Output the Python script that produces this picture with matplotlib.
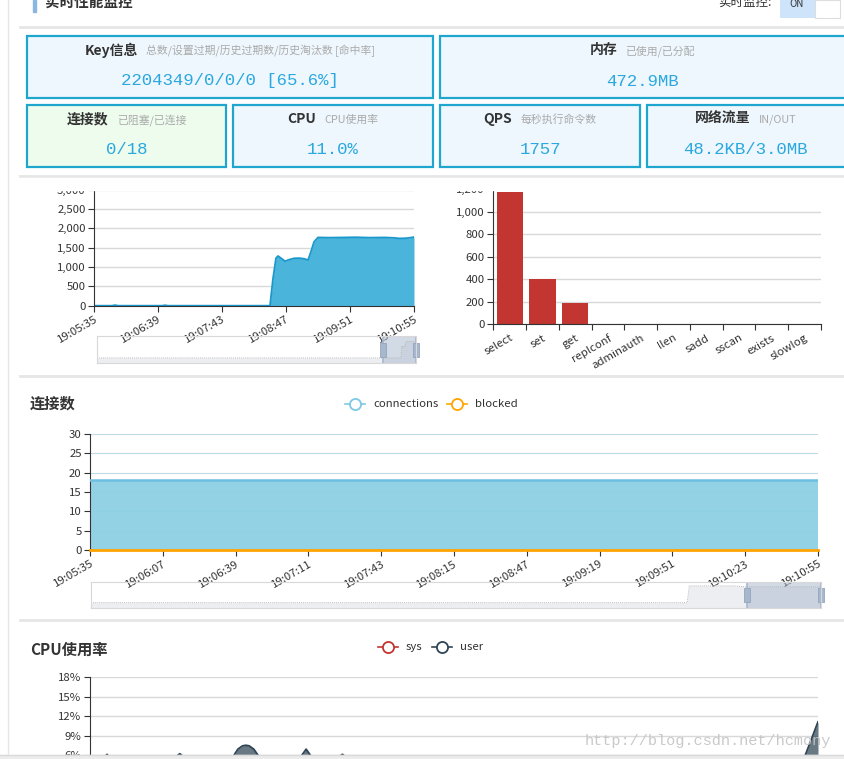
import matplotlib
matplotlib.use('Agg')
import matplotlib.pyplot as plt
from matplotlib.patches import Rectangle
from matplotlib.path import Path

plt.rcParams['font.family'] = ['Noto Sans CJK SC', 'DejaVu Sans']

# ---- data ----
# summary cards
key_info = '2204349/0/0/0 [65.6%]'
mem_info = '472.9MB'
conn_info = '0/18'
cpu_info = '11.0%'
qps_info = '1757'
net_info = '48.2KB/3.0MB'

# qps over time (seconds after 19:05:35)
qps_t = [0, 18, 21, 24, 60, 68, 71, 74, 120, 176, 179, 182, 184, 187, 191, 195, 200,
         205, 210, 214, 217, 220, 224, 235, 250, 262, 275, 290, 300, 305, 312, 318, 320]
qps_v = [0, 0, 15, 0, 0, 0, 12, 0, 0, 0, 700, 1230, 1285, 1230, 1150, 1190, 1225,
         1230, 1215, 1180, 1400, 1650, 1765, 1760, 1765, 1770, 1760, 1765, 1755, 1740, 1745, 1765, 1775]

# command counts
cmds = ['select', 'set', 'get', 'replconf', 'adminauth', 'llen', 'sadd', 'sscan', 'exists', 'slowlog']
cmd_counts = [1175, 400, 185, 3, 2, 1, 1, 1, 1, 0]

# connections
conn_t = [0, 32, 64, 96, 128, 160, 192, 224, 256, 288, 320]
conn_v = [18, 18, 18, 18, 18, 18, 18, 18, 18, 18, 18]
blocked_v = [0, 0, 0, 0, 0, 0, 0, 0, 0, 0, 0]
# longer history shown in the zoom slider
conn_hist_t = [-2840, -259, -250, -52, -10]
conn_hist_v = [0, 0, 19, 19, 18]

# cpu usage (%)
cpu_t = [0, 5, 7.5, 10, 36, 39.5, 43, 60, 63, 65, 67, 68.5, 70, 72, 74, 77, 90, 93, 95,
         97, 100, 108, 111, 114, 140, 180, 220, 260, 300, 314, 320]
cpu_user = [4.8, 5.2, 6.1, 5.0, 5.3, 6.2, 5.1, 4.9, 5.8, 6.9, 7.4, 7.5, 7.4, 6.9, 5.9, 4.8,
            5.0, 5.9, 6.9, 5.9, 4.9, 5.4, 6.1, 5.2, 4.6, 4.4, 4.7, 4.5, 4.8, 5.6, 11.1]
cpu_sys_t = [0, 80, 160, 240, 320]
cpu_sys = [2.0, 2.3, 1.9, 2.2, 3.0]

qps_ticks = [0, 64, 128, 192, 256, 320]
conn_ticks = [0, 32, 64, 96, 128, 160, 192, 224, 256, 288, 320]
start_sec = 19 * 3600 + 5 * 60 + 35

# ---- layout helpers ----
W, H = 844, 759
fig = plt.figure(figsize=(W / 100, H / 100), dpi=100)
fig.patch.set_facecolor('white')
renderer = fig.canvas.get_renderer()


def rect(x0, y0, x1, y1):
    return [x0 / W, 1 - y1 / H, (x1 - x0) / W, (y1 - y0) / H]


def hms(t):
    s = start_sec + int(round(t))
    return '%d:%02d:%02d' % (s // 3600, s // 60 % 60, s % 60)


def overlay(z):
    ax = fig.add_axes([0, 0, 1, 1], zorder=z)
    ax.set_xlim(0, W)
    ax.set_ylim(H, 0)
    ax.axis('off')
    ax.patch.set_alpha(0)
    return ax


TXT = '#333333'
GRID = '#d9d9d9'


def style_axes(ax):
    ax.patch.set_alpha(0)
    for s in ['top', 'right']:
        ax.spines[s].set_visible(False)
    ax.spines['left'].set_color(TXT)
    ax.spines['bottom'].set_color(TXT)
    ax.tick_params(colors=TXT, labelsize=8.2, length=4, width=0.8, pad=2)
    ax.grid(axis='y', color=GRID, lw=1)
    ax.set_axisbelow(True)


base = overlay(0)

# page chrome
base.plot([8, 8], [0, H], color='#e6e6e6', lw=1)
base.add_patch(Rectangle((33, 0), 3, 12, color='#8ab8e0'))
base.text(45, 2, '实时性能监控', fontsize=10.5, fontweight='bold', color=TXT, va='center')
base.text(718, 2, '实时监控:', fontsize=9, color=TXT, va='center')
base.add_patch(Rectangle((780, 0), 35, 18, facecolor='#cde4fa', edgecolor='none'))
base.add_patch(Rectangle((815, 0), 25, 18, facecolor='white', edgecolor='#dddddd', lw=0.8))
base.text(797, 4, 'ON', fontsize=7, color=TXT, ha='center', va='center')
for yy in [27, 176, 376, 620]:
    base.plot([20, W], [yy, yy], color='#e6e6e6', lw=2)

# cards: title and subtitle centred together, value centred below
cards = [
    (27, 36, 433, 98, '#eef7fd', 'Key信息', '总数/设置过期/历史过期数/历史淘汰数 [命中率]', key_info, 642),
    (440, 36, 844, 98, '#eef7fd', '内存', '已使用/已分配', mem_info, 642),
    (27, 105, 226, 167, '#edfced', '连接数', '已阻塞/已连接', conn_info, None),
    (233, 105, 433, 167, '#eef7fd', 'CPU', 'CPU使用率', cpu_info, None),
    (440, 105, 640, 167, '#eef7fd', 'QPS', '每秒执行命令数', qps_info, None),
    (647, 105, 844, 167, '#eef7fd', '网络流量', 'IN/OUT', net_info, 745.5),
]
for x0, y0, x1, y1, bg, title, sub, val, cx in cards:
    rx1 = x1 + 2 if x1 >= W else x1
    base.add_patch(Rectangle((x0, y0), rx1 - x0, y1 - y0, facecolor=bg, edgecolor='#1ea6cf', lw=1.6))
    if cx is None or x1 < W:
        cx = (x0 + x1) / 2
    t1 = base.text(0, y0 + 14, title, fontsize=10, fontweight='bold', color=TXT, va='center')
    t2 = base.text(0, y0 + 15, sub, fontsize=7.8, color='#aaaaaa', va='center')
    w1 = t1.get_window_extent(renderer).width
    w2 = t2.get_window_extent(renderer).width
    gap = 8
    left = cx - (w1 + gap + w2) / 2
    t1.set_x(left)
    t2.set_x(left + w1 + gap)
    base.text(cx, y0 + 45, val, fontsize=12.5, family='Liberation Mono',
              color='#2aa8df', ha='center', va='center')

# ---- QPS line chart ----
ax1 = fig.add_axes(rect(94, 189.7, 414, 305.7), zorder=5)
style_axes(ax1)
ax1.fill_between(qps_t, qps_v, 0, color='#4ab4db', lw=0)
ax1.plot(qps_t, qps_v, color='#1a98cc', lw=1.3)
ax1.set_xlim(0, 320)
ax1.set_ylim(0, 3000)
ax1.set_yticks(range(0, 3001, 500))
ax1.set_yticklabels(['{:,}'.format(v) for v in range(0, 3001, 500)])
ax1.set_xticks(qps_ticks)
ax1.set_xticklabels([hms(t) for t in qps_ticks], rotation=30, ha='right', rotation_mode='anchor')

# ---- command bar chart ----
ax2 = fig.add_axes(rect(493.3, 189.3, 821, 324.3), zorder=5)
style_axes(ax2)
ax2.bar(range(len(cmds)), cmd_counts, width=0.8, color='#c23531')
ax2.set_xlim(-0.5, len(cmds) - 0.5)
ax2.set_ylim(0, 1200)
ax2.set_yticks(range(0, 1201, 200))
ax2.set_yticklabels(['{:,}'.format(v) for v in range(0, 1201, 200)])
ax2.set_xticks([i - 0.5 for i in range(len(cmds) + 1)])
ax2.set_xticklabels([])
ax2.set_xticks(range(len(cmds)), minor=True)
ax2.set_xticklabels(cmds, minor=True, rotation=30, ha='right', rotation_mode='anchor')
ax2.tick_params(axis='x', which='minor', length=0, pad=6, labelsize=8.2, colors=TXT)


def legend_item(ax, x, y, color, label):
    ax.plot([x - 10, x + 10], [y, y], color=color, lw=1.2)
    ax.plot([x], [y], marker='o', ms=8, mfc='white', mec=color, mew=1.3)
    ax.text(x + 18, y, label, fontsize=8.2, color=TXT, va='center')


# ---- connections chart ----
base.text(30, 404, '连接数', fontsize=11, fontweight='bold', color=TXT, va='center')
legend_item(base, 355, 404, '#7cc8e6', 'connections')
legend_item(base, 457, 404, '#ffa500', 'blocked')

ax3 = fig.add_axes(rect(90, 434, 818, 550), zorder=5)
style_axes(ax3)
ax3.fill_between(conn_t, conn_v, 0, color='#8dd0e4', alpha=0.95, lw=0, zorder=1)
ax3.grid(axis='y', color='#7fb9d0', lw=0.8, alpha=0.5)
ax3.plot(conn_t, conn_v, color='#6cbfe0', lw=1.8, zorder=3)
ax3.plot(conn_t, blocked_v, color='#ffa500', lw=2, zorder=4, clip_on=False)
ax3.set_xlim(0, 320)
ax3.set_ylim(0, 30)
ax3.set_yticks(range(0, 31, 5))
ax3.set_xticks(conn_ticks)
ax3.set_xticklabels([hms(t) for t in conn_ticks], rotation=30, ha='right', rotation_mode='anchor')

# ---- zoom sliders ----
handle = Path([(-0.25, -0.5), (0.25, -0.5), (0.25, 0.5), (-0.25, 0.5), (-0.25, -0.5)],
              [Path.MOVETO, Path.LINETO, Path.LINETO, Path.LINETO, Path.CLOSEPOLY])


def slider(box, t, v, xlim, ylim, win):
    ax = fig.add_axes(rect(*box), zorder=5)
    ax.patch.set_alpha(0)
    ax.fill_between(t, v, ylim[0], color='#eceef1', lw=0)
    ax.plot(t, v, color='#b5b5b5', lw=0.7, ls=(0, (1, 1)))
    ax.axvspan(win[0], win[1], color='#a7b7cc', alpha=0.5, lw=0)
    mid = (ylim[0] + ylim[1]) / 2
    for w in win:
        ax.axvline(w, color='#a7b7cc', lw=1.2)
        ax.plot([w], [mid], marker=handle, ms=10, mfc='#a7b7cc', mec='#93a6c0', mew=0.6, clip_on=False)
    ax.set_xlim(*xlim)
    ax.set_ylim(*ylim)
    ax.set_xticks([])
    ax.set_yticks([])
    for s in ax.spines.values():
        s.set_color('#d8d8d8')
        s.set_lw(0.8)
    return ax


slider((97, 336, 416, 363), [-2765] + qps_t, [0] + qps_v, (-2765, 320), (-537, 2362), (0, 320))
slider((91, 581.7, 821, 608), conn_hist_t + conn_t, conn_hist_v + conn_v,
       (-2840, 320), (-5.9, 23.8), (0, 320))

# ---- CPU chart ----
base.text(30, 650, 'CPU使用率', fontsize=11, fontweight='bold', color=TXT, va='center')
legend_item(base, 388, 647, '#c23531', 'sys')
legend_item(base, 442, 647, '#2f4554', 'user')

ax4 = fig.add_axes(rect(90, 677, 818, 794), zorder=5)
style_axes(ax4)
ax4.fill_between(cpu_sys_t, cpu_sys, 0, color='#c23531', alpha=0.7, lw=0)
ax4.fill_between(cpu_t, cpu_user, 0, color='#2f4554', alpha=0.72, lw=0)
ax4.plot(cpu_t, cpu_user, color='#2f4554', lw=1.3)
ax4.set_xlim(0, 320)
ax4.set_ylim(0, 18)
ax4.set_yticks(range(0, 19, 3))
ax4.set_yticklabels(['%d%%' % v for v in range(0, 19, 3)])
ax4.spines['bottom'].set_visible(False)
ax4.set_xticks([])

# ---- things drawn on top ----
top = overlay(20)
top.add_patch(Rectangle((20, 178), W - 20, 12.3, color='white'))
top.add_patch(Rectangle((0, 755), W, 5, color='#ececec'))
top.plot([0, W], [754.5, 754.5], color='#dadada', lw=1)
top.text(585, 741, 'http://blog.csdn.net/hcmony', family='Liberation Mono', fontsize=11,
         color='#c4c4c4', alpha=0.9, va='center')

fig.savefig('out.png', dpi=100)
